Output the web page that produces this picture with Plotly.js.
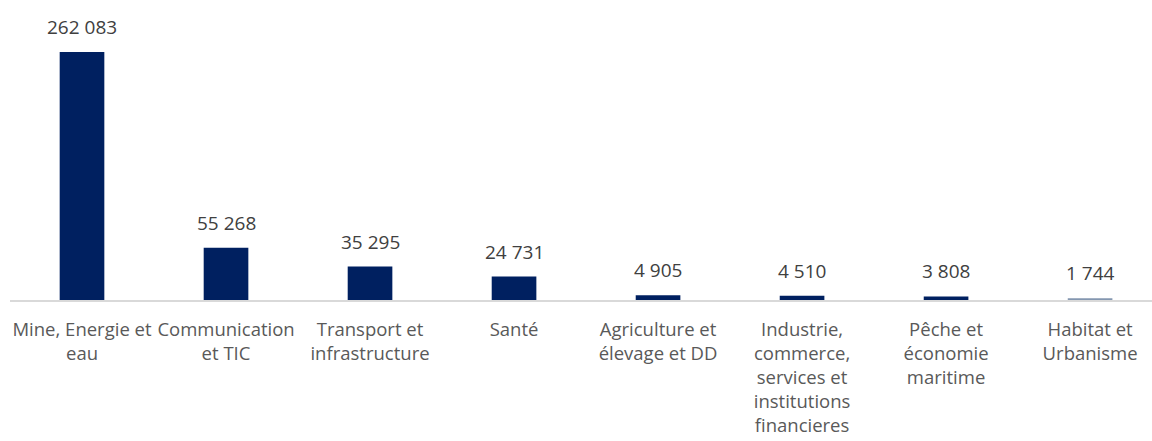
<!DOCTYPE html>
<html><head><meta charset="utf-8">
<script src="https://cdn.plot.ly/plotly-3.0.1.min.js"></script>
<style>html,body{margin:0;padding:0;background:#fff}</style>
</head><body><div id="chart" style="width:1152px;height:441px"></div>
<script>
const categories = ["Mine, Energie et<br>eau","Communication<br>et TIC","Transport et<br>infrastructure","Santé","Agriculture et<br>élevage et DD","Industrie,<br>commerce,<br>services et<br>institutions<br>financieres","Pêche et<br>économie<br>maritime","Habitat et<br>Urbanisme"];
const values = [262083, 55268, 35295, 24731, 4905, 4510, 3808, 1744];
const barColors = ["#002060","#002060","#002060","#002060","#002060","#002060","#002060","#8497B0"];
function fmt(v){return String(v).replace(/\B(?=(\d{3})+(?!\d))/g," ");}
const idx = categories.map((c,i)=>i);
const annotations = values.map((v,i)=>({
  x:i, y:v, xref:"x", yref:"y", text:fmt(v), showarrow:false,
  yanchor:"bottom", yshift:10,
  font:{family:"Open Sans, sans-serif", size:19, color:"#404040"}
}));
Plotly.newPlot("chart",[{
  type:"bar", x:idx, y:values, width:0.31,
  marker:{color:barColors},
  hoverinfo:"none"
}],{
  width:1152, height:441,
  margin:{l:10,r:0,t:20,b:141},
  paper_bgcolor:"#fff", plot_bgcolor:"#fff",
  showlegend:false,
  annotations:annotations,
  xaxis:{range:[-0.5,7.43], tickmode:"array", tickvals:idx, ticktext:categories,
    showline:true, linecolor:"#d9d9d9", linewidth:2, showgrid:false, zeroline:false,
    tickfont:{family:"Open Sans, sans-serif", size:18.5, color:"#595959"}, ticks:"", tickangle:0,
    ticklabelstandoff:12},
  yaxis:{range:[0,295900], visible:false, showgrid:false, zeroline:false},
  font:{family:"Open Sans, sans-serif"}
},{displayModeBar:false, staticPlot:true});
</script></body></html>
